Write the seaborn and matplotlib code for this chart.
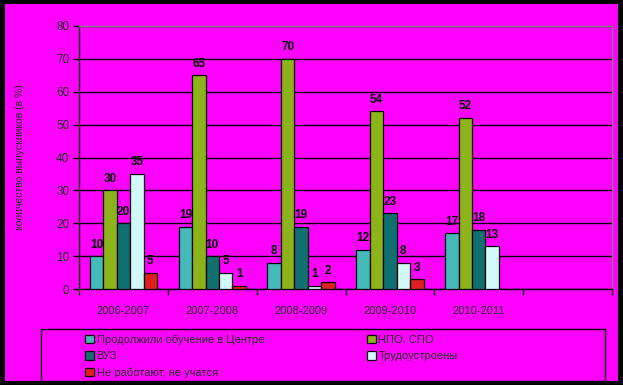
import numpy as np
import pandas as pd
import matplotlib
matplotlib.use("Agg")
import matplotlib.pyplot as plt
from matplotlib.patches import Rectangle
import seaborn as sns

# --------------------------------------------------------------------------
# Data
# --------------------------------------------------------------------------
years = ["2006-2007", "2007-2008", "2008-2009", "2009-2010", "2010-2011"]
groups = ["Продолжили обучение в Центре", "НПО, СПО", "ВУЗ",
          "Трудоустроены", "Не работают, не учатся"]
center = [10, 19, 8, 12, 17]
npo_spo = [30, 65, 70, 54, 52]
vuz = [20, 10, 19, 23, 18]
employed = [35, 5, 1, 8, 13]
idle = [5, 1, 2, 3, np.nan]
colors = ["#33CCCC", "#99CC00", "#008080", "#CCFFFF", "#FF0000"]

series = [center, npo_spo, vuz, employed, idle]
rows = []
for g, vals in zip(groups, series):
    for y, v in zip(years, vals):
        rows.append({"year": y, "group": g, "value": v})
df = pd.DataFrame(rows).dropna()

# --------------------------------------------------------------------------
# Plot
# --------------------------------------------------------------------------
sns.set_style("white")
plt.rcParams["font.family"] = ["Liberation Sans", "DejaVu Sans"]

W, H = 623, 385
fig = plt.figure(figsize=(W / 100, H / 100), dpi=100, facecolor="black")
fig.patches.append(Rectangle((5 / W, 4 / H), 613 / W, 377 / H,
                             transform=fig.transFigure, facecolor="#FF00FF",
                             edgecolor="none", zorder=-10))
# legend frame
fig.patches.append(Rectangle((41 / W, 4 / H), 564 / W, 52 / H,
                             transform=fig.transFigure, facecolor="none",
                             edgecolor="black", linewidth=1, zorder=-5))

ax = fig.add_axes([79 / W, 1 - 289 / H, 533 / W, 263 / H])
ax.set_facecolor("#FF00FF")

sns.barplot(data=df, x="year", y="value", hue="group",
            order=years + [" "], hue_order=groups, palette=colors,
            width=0.757, edgecolor="black", linewidth=0.9,
            errorbar=None, ax=ax, zorder=3)

for cont in ax.containers:
    ax.bar_label(cont, fmt="%d", padding=4, fontsize=8.5,
                 fontweight="bold", color="black")

ax.set_ylim(0, 80)
ax.set_xlim(-0.5, 5.5)
ax.set_yticks(range(0, 81, 10))
ax.yaxis.grid(True, color="black", linewidth=1, zorder=0)
ax.set_axisbelow(True)

ax.set_xticks(np.arange(-0.5, 6, 1), minor=True)
ax.tick_params(axis="x", which="major", length=0, pad=12, labelsize=8)
ax.tick_params(axis="x", which="minor", length=4, width=1, color="black",
               direction="out", bottom=True)
ax.tick_params(axis="y", length=4, width=1, color="black", direction="out",
               left=True, labelsize=8.5, pad=3)

for side in ["top", "right"]:
    ax.spines[side].set_color("#808080")
    ax.spines[side].set_linewidth(1)
for side in ["left", "bottom"]:
    ax.spines[side].set_color("black")
    ax.spines[side].set_linewidth(1)

ax.set_xlabel("")
ax.set_ylabel("количество выпускников (в %)", fontsize=7.5)
ax.yaxis.set_label_coords(-(79 - 25) / 533, 0.5)

handles, labels = ax.get_legend_handles_labels()
ax.get_legend().remove()
idx = [0, 2, 4, 1, 3]
leg = fig.legend([handles[i] for i in idx], [labels[i] for i in idx],
                 ncol=2, loc="upper left", mode="expand",
                 bbox_to_anchor=(81 / W, 1 - 382 / H, 381 / W, 52 / H),
                 frameon=False, fontsize=8,
                 handlelength=0.8, handleheight=0.8, handletextpad=0.2,
                 labelspacing=0.55, borderpad=0.4, borderaxespad=0,
                 columnspacing=1.0)

fig.savefig("out.png", dpi=100, facecolor=fig.get_facecolor())
